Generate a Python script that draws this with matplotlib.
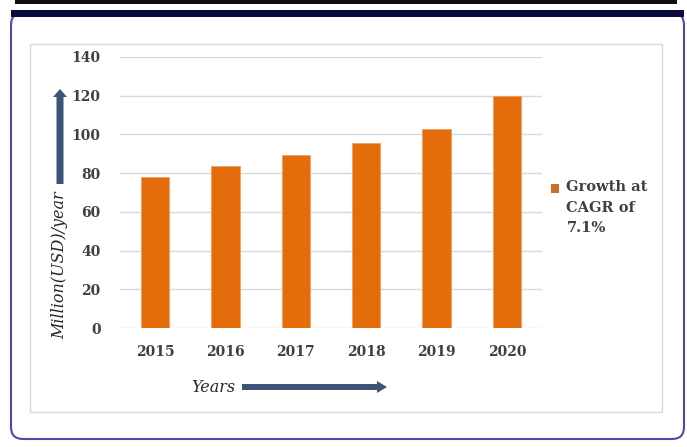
import matplotlib
matplotlib.use("Agg")
import matplotlib.pyplot as plt
from matplotlib.patches import FancyBboxPatch, Rectangle, Patch, FancyArrow
from matplotlib.legend_handler import HandlerPatch

years = ["2015", "2016", "2017", "2018", "2019", "2020"]
values = [78, 83.5, 89.5, 95.5, 103, 120]
yticks = [0, 20, 40, 60, 80, 100, 120, 140]
legend_label = "Growth at\nCAGR of\n7.1%"
ylabel = "Million(USD)/year"
xlabel = "Years"

W, H = 687, 447
fig = plt.figure(figsize=(W / 100, H / 100), dpi=100)
fig.patch.set_facecolor("white")

# background / decoration axes in pixel coordinates
bg = fig.add_axes([0, 0, 1, 1])
bg.set_xlim(0, W)
bg.set_ylim(H, 0)
bg.axis("off")

# top black rule
bg.add_patch(Rectangle((15, 0), 662, 4, facecolor="#111111", edgecolor="none"))
# rounded outer frame
bg.add_patch(FancyBboxPatch((11, 13), 673, 426, boxstyle="round,pad=0,rounding_size=12",
                            facecolor="white", edgecolor="#4B4BA8", linewidth=1.5))
# navy top band
bg.add_patch(Rectangle((11, 10), 673, 7, facecolor="#0B0B3B", edgecolor="none"))
# inner chart box
bg.add_patch(Rectangle((30, 44), 632, 368, facecolor="white", edgecolor="#D9D9D9", linewidth=1))

serif = ["DejaVu Serif"]
arrow_color = "#3D5479"
# y label and arrow
bg.text(60, 265, ylabel, rotation=90, ha="center", va="center", fontsize=11.5,
        style="italic", family=serif, color="#262626")
bg.add_patch(FancyArrow(60, 184, 0, -95, width=7, head_width=14, head_length=8,
                        length_includes_head=True, color=arrow_color, linewidth=0))
# x label and arrow
bg.text(213, 387, xlabel, ha="center", va="center", fontsize=11.5,
        style="italic", family=serif, color="#262626")
bg.add_patch(FancyArrow(242, 387, 145, 0, width=6, head_width=12, head_length=10,
                        length_includes_head=True, color=arrow_color, linewidth=0))

# main bar axes
x0, x1 = 120, 542
y_top, y_bot = 57, 328
ax = fig.add_axes([x0 / W, (H - y_bot) / H, (x1 - x0) / W, (y_bot - y_top) / H])
ax.patch.set_alpha(0)
bar_color = "#E46C0A"
ax.bar(range(len(years)), values, width=0.4, color=bar_color, edgecolor="#F0A060",
       linewidth=0.6, zorder=3)
ax.set_xlim(-0.5, len(years) - 0.5)
ax.set_ylim(0, 140)
ax.set_yticks(yticks)
ax.set_xticks(range(len(years)))
ax.set_xticklabels(years)
ax.grid(axis="y", color="#D9D9D9", linewidth=1, zorder=0)
for s in ax.spines.values():
    s.set_visible(False)
ax.tick_params(length=0, colors="#404040")
ax.tick_params(axis="y", pad=14)
ax.tick_params(axis="x", pad=12)
for lab in ax.get_xticklabels() + ax.get_yticklabels():
    lab.set_family(serif)
    lab.set_fontweight("bold")
    lab.set_fontsize(10)
    lab.set_color("#404040")

LEG_FS = 10.5
LINE_SP = 1.6


def top_square(legend, orig_handle, xdescent, ydescent, width, height, fontsize):
    shift = fontsize * 1.17 * 1.45 - 3.5
    return Rectangle((-xdescent, -ydescent + shift), width, height)


leg = ax.legend(handles=[Patch(facecolor="#C8702A", edgecolor="none")], labels=[legend_label],
                loc="upper left", bbox_to_anchor=(538 / W, (H - 167) / H),
                bbox_transform=fig.transFigure, frameon=False,
                handlelength=0.55, handleheight=0.55, handletextpad=0.5,
                handler_map={Patch: HandlerPatch(patch_func=top_square)},
                prop=dict(family=serif, weight="bold", size=LEG_FS))
for t in leg.get_texts():
    t.set_color("#404040")
    t.set_linespacing(LINE_SP)

fig.savefig("out.png", dpi=100, facecolor="white")
